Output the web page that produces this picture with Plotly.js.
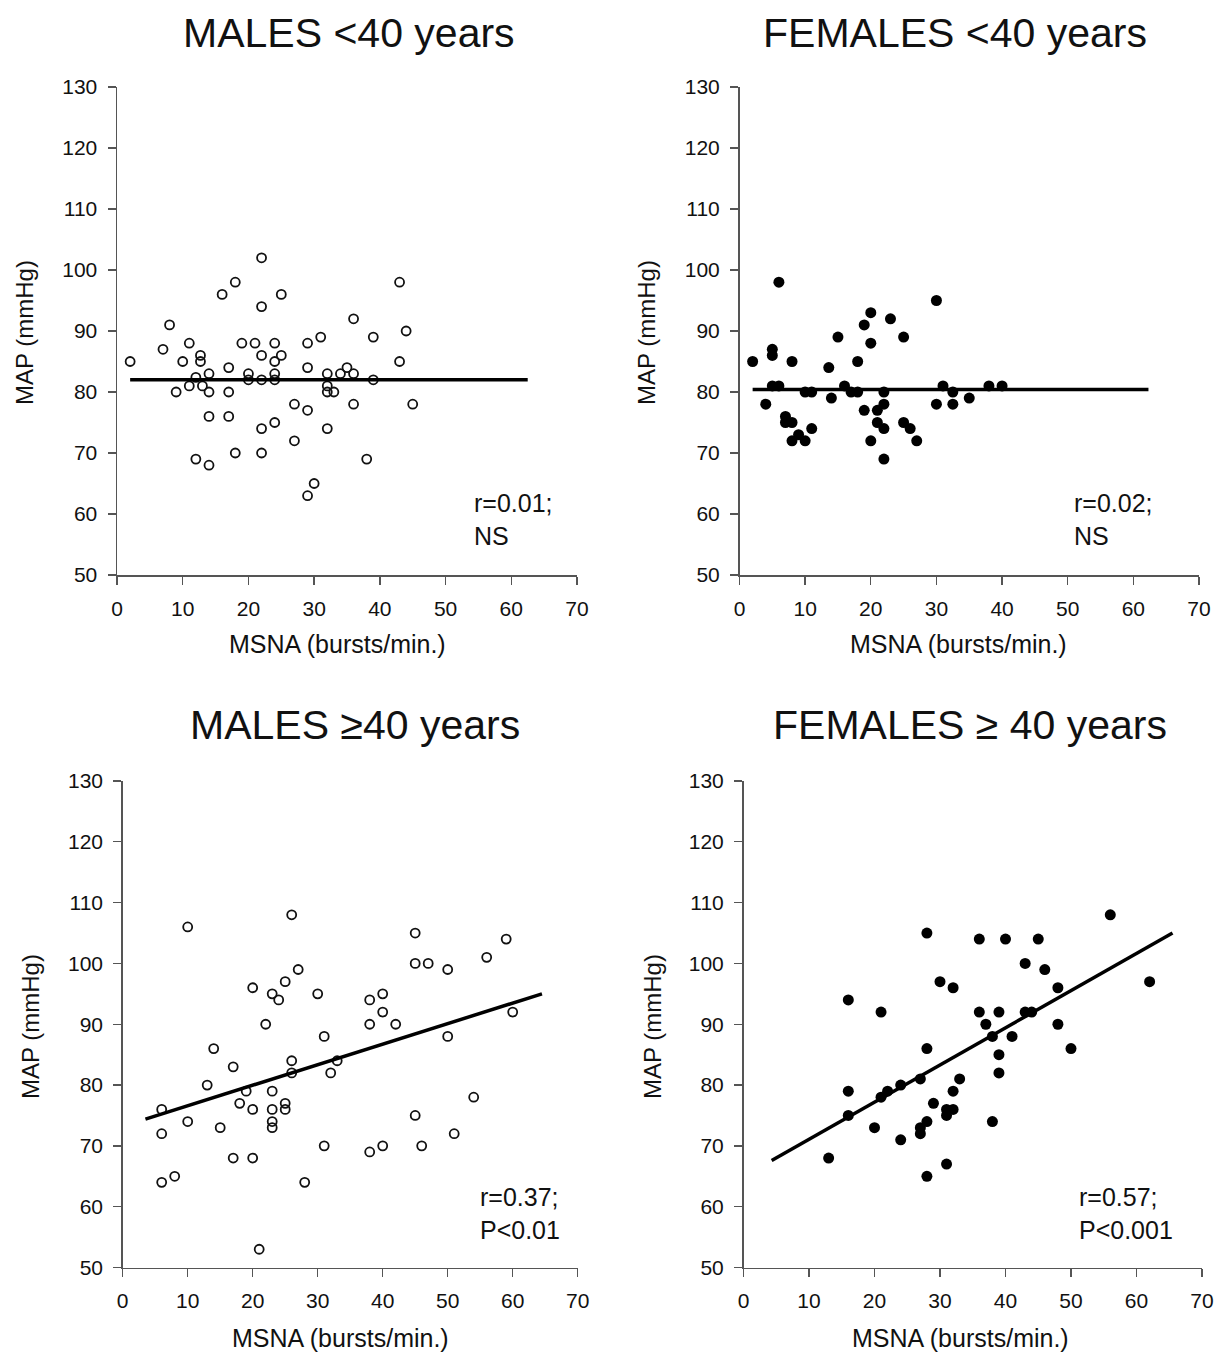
<!DOCTYPE html>
<html>
<head>
<meta charset="utf-8">
<script src="https://cdn.plot.ly/plotly-3.0.1.min.js"></script>
<style>html,body{margin:0;padding:0;background:#fff;}#chart{width:1216px;height:1353px;}</style>
</head>
<body>
<div id="chart"></div>
<script>
// ---- data ----
const titles = ["MALES <40 years", "FEMALES <40 years", "MALES \u226540 years", "FEMALES \u2265 40 years"];
const statsText = ["r=0.01;<br>NS", "r=0.02;<br>NS", "r=0.37;<br>P<0.01", "r=0.57;<br>P<0.001"];
const xTitle = "MSNA (bursts/min.)";
const yTitle = "MAP (mmHg)";

const maleYoungX = [2,8,7,11,10,12.7,12.7,14,12,11,13,9,14,17,17,14,17,12,14,18,22,22,18,16,25,22,19,21,24,22,24,25,20,20,22,24,24,29,31,29,27,29,24,22,27,32,32,32,32,33,34,30,29,43,36,39,44,43,35,36,39,36,45,38];
const maleYoungY = [85,91,87,88,85,86,85,83,82.4,81,81,80,80,84,80,76,76,69,68,70,70,102,98,96,96,94,88,88,88,86,85,86,83,82,82,83,82,88,89,84,78,77,75,74,72,74,83,81,80,80,83,65,63,98,92,89,90,85,84,83,82,78,78,69];

const femaleYoungX = [6,2,5,5,8,5,6,4,10,11,7,7,8,9,8,10,11,13.6,15,14,16,17,18,18,19,20,20,19,20,22,22,21,21,22,22,23,25,25,26,27,30,30,31,32.5,32.5,35,38,40];
const femaleYoungY = [98,85,87,86,85,81,81,78,80,80,76,75,75,73,72,72,74,84,89,79,81,80,80,85,91,93,88,77,72,80,78,77,75,74,69,92,89,75,74,72,95,78,81,80,78,79,81,81];

const maleOldX = [6,6,6,8,10,10,14,13,15,17,17,18,19,20,20,20,21,22,23,24,23,23,23,23,25,25,25,26,26,26,27,28,30,31,31,32,33,45,45,47,50,56,59,38,40,40,38,42,60,50,54,45,51,38,40,46];
const maleOldY = [76,72,64,65,106,74,86,80,73,83,68,77,79,96,76,68,53,90,95,94,79,76,74,73,97,77,76,108,84,82,99,64,95,88,70,82,84,105,100,100,99,101,104,94,95,92,90,90,92,88,78,75,72,69,70,70];

const femaleOldX = [13,16,16,16,20,21,21,22,24,24,27,27,27,28,28,28,28,29,30,31,31,31,32,32,32,33,36,40,45,43,46,48,56,62,36,39,43,44,37,38,41,48,50,39,39,38];
const femaleOldY = [68,94,79,75,73,92,78,79,80,71,81,73,72,105,86,74,65,77,97,76,75,67,96,79,76,81,104,104,104,100,99,96,108,97,92,92,92,92,90,88,88,90,86,85,82,74];

// fitted regression lines as drawn (end points)
const fitMaleYoungX = [2, 62.5];   const fitMaleYoungY = [82, 82];
const fitFemaleYoungX = [2, 62.3]; const fitFemaleYoungY = [80.4, 80.4];
const fitMaleOldX = [3.5, 64.5];   const fitMaleOldY = [74.4, 95];
const fitFemaleOldX = [4.3, 65.5]; const fitFemaleOldY = [67.6, 105];

// ---- layout geometry (pixels) ----
const W = 1216, H = 1353;
const boxes = [
  {x0:117, x1:577, y0:87, y1:575},
  {x0:739.5, x1:1199, y0:87, y1:575},
  {x0:122.7, x1:577.7, y0:781, y1:1267.5},
  {x0:743.5, x1:1202, y0:781, y1:1267.5}
];
const px = v => v / W;
const py = v => 1 - v / H;

const series = [
  {x: maleYoungX, y: maleYoungY, fx: fitMaleYoungX, fy: fitMaleYoungY, open: true},
  {x: femaleYoungX, y: femaleYoungY, fx: fitFemaleYoungX, fy: fitFemaleYoungY, open: false},
  {x: maleOldX, y: maleOldY, fx: fitMaleOldX, fy: fitMaleOldY, open: true},
  {x: femaleOldX, y: femaleOldY, fx: fitFemaleOldX, fy: fitFemaleOldY, open: false}
];

const data = [];
const layout = {
  width: W, height: H,
  margin: {l:0, r:0, t:0, b:0},
  paper_bgcolor: "#fff", plot_bgcolor: "#fff",
  showlegend: false,
  font: {family: "Liberation Sans, Arial, sans-serif", color: "#111"},
  annotations: []
};

const fontFam = "Liberation Sans, Arial, sans-serif";
const titlePos = [{x:349, y:33}, {x:955, y:33}, {x:355, y:725}, {x:970, y:725}];
const statsPos = [{x:472, y:520}, {x:1072, y:520}, {x:478, y:1213}, {x:1077, y:1213}];
const xtPos = [{x:337, y:644}, {x:958, y:644}, {x:340, y:1338}, {x:960, y:1338}];
const ytPos = [{x:25, y:333}, {x:647, y:333}, {x:30, y:1027}, {x:652, y:1027}];

series.forEach((s, i) => {
  const n = i + 1;
  const xa = n === 1 ? "x" : "x" + n;
  const ya = n === 1 ? "y" : "y" + n;
  data.push({
    type: "scatter", mode: "markers", x: s.x, y: s.y, xaxis: xa, yaxis: ya,
    marker: s.open
      ? {symbol: "circle-open", size: 9, color: "#111", line: {width: 1.8, color: "#111"}}
      : {symbol: "circle", size: 11, color: "#000"},
    cliponaxis: false, hoverinfo: "x+y"
  });
  data.push({
    type: "scatter", mode: "lines", x: s.fx, y: s.fy, xaxis: xa, yaxis: ya,
    line: {color: "#000", width: 3.5}, cliponaxis: false, hoverinfo: "skip"
  });
  const b = boxes[i];
  const axCommon = {
    showgrid: false, zeroline: false, showline: true, linecolor: "#555", linewidth: 1.5,
    ticks: "outside", ticklen: 8, tickwidth: 1.3, tickcolor: "#555",
    tickfont: {family: fontFam, size: 21, color: "#111"}, fixedrange: true
  };
  layout["xaxis" + (n === 1 ? "" : n)] = Object.assign({}, axCommon, {
    domain: [px(b.x0), px(b.x1)], range: [0, 70], tickvals: [0,10,20,30,40,50,60,70],
    anchor: ya, ticklabelstandoff: 6
  });
  layout["yaxis" + (n === 1 ? "" : n)] = Object.assign({}, axCommon, {
    domain: [py(b.y1), py(b.y0)], range: [50, 130], tickvals: [50,60,70,80,90,100,110,120,130],
    anchor: xa, ticklabelstandoff: 6
  });
  layout.annotations.push({
    xref: "paper", yref: "paper", x: px(titlePos[i].x), y: py(titlePos[i].y),
    xanchor: "center", yanchor: "middle", showarrow: false, text: titles[i],
    font: {family: fontFam, size: 41, color: "#111"}
  });
  layout.annotations.push({
    xref: "paper", yref: "paper", x: px(statsPos[i].x), y: py(statsPos[i].y),
    xanchor: "left", yanchor: "middle", align: "left", showarrow: false, text: statsText[i],
    font: {family: fontFam, size: 25, color: "#111"}
  });
  layout.annotations.push({
    xref: "paper", yref: "paper", x: px(xtPos[i].x), y: py(xtPos[i].y),
    xanchor: "center", yanchor: "middle", showarrow: false, text: xTitle,
    font: {family: fontFam, size: 25, color: "#111"}
  });
  layout.annotations.push({
    xref: "paper", yref: "paper", x: px(ytPos[i].x), y: py(ytPos[i].y),
    xanchor: "center", yanchor: "middle", showarrow: false, text: yTitle, textangle: -90,
    font: {family: fontFam, size: 24, color: "#111"}
  });
});

Plotly.newPlot("chart", data, layout, {displayModeBar: false, staticPlot: true});
</script>
</body>
</html>
